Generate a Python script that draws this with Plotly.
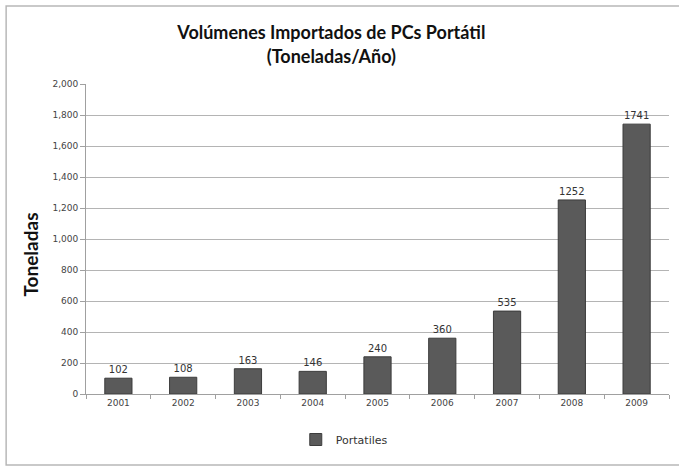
import plotly.graph_objects as go

# data
years = ["2001", "2002", "2003", "2004", "2005", "2006", "2007", "2008", "2009"]
portatiles = [102, 108, 163, 146, 240, 360, 535, 1252, 1741]
y_ticks = [0, 200, 400, 600, 800, 1000, 1200, 1400, 1600, 1800, 2000]
y_tick_text = ["0", "200", "400", "600", "800", "1,000", "1,200", "1,400", "1,600", "1,800", "2,000"]

tick_font = dict(family="DejaVu Sans", size=9, color="#444444")

fig = go.Figure()
fig.add_trace(go.Bar(
    x=years,
    y=portatiles,
    name="Portatiles",
    text=[str(v) for v in portatiles],
    textposition="outside",
    textfont=dict(family="DejaVu Sans", size=10, color="#333333"),
    cliponaxis=False,
    marker=dict(color="#5a5a5a", line=dict(color="#3c3c3c", width=1)),
))

fig.update_layout(
    width=679,
    height=466,
    margin=dict(l=86, r=10, t=84, b=72, autoexpand=False),
    paper_bgcolor="white",
    plot_bgcolor="white",
    bargap=0.58,
    title=dict(
        text="<b>Volúmenes Importados de PCs Portátil<br>(Toneladas/Año)</b>",
        x=0.488,
        xanchor="center",
        y=0.916,
        yanchor="top",
        font=dict(family="Lato", size=18, color="#111111"),
    ),
    showlegend=True,
    legend=dict(
        orientation="h",
        x=0.443,
        xanchor="center",
        y=-0.1,
        yanchor="top",
        itemwidth=30,
        font=dict(family="DejaVu Sans", size=11, color="#333333"),
    ),
    xaxis=dict(
        type="category",
        automargin=False,
        showline=True,
        linecolor="#a0a0a0",
        ticks="outside",
        tickson="boundaries",
        ticklen=4,
        tickcolor="#a0a0a0",
        tickfont=tick_font,
        showgrid=False,
    ),
    yaxis=dict(
        range=[0, 2000],
        automargin=False,
        tickvals=y_ticks,
        ticktext=y_tick_text,
        showline=True,
        linecolor="#a0a0a0",
        ticks="outside",
        ticklen=5,
        tickcolor="#a0a0a0",
        tickfont=tick_font,
        showgrid=True,
        gridcolor="#b4b4b4",
        gridwidth=1,
        zeroline=False,
    ),
)

# y axis title sits a little below the middle of the plot in the reference
fig.add_annotation(
    text="<b>Toneladas</b>",
    xref="paper", yref="paper",
    x=-0.096, y=0.45,
    xanchor="center", yanchor="middle",
    textangle=-90,
    showarrow=False,
    font=dict(family="Lato", size=19, color="#111111"),
)

# outer chart frame (right edge runs past the picture)
fig.add_shape(
    type="rect",
    xref="paper", yref="paper",
    x0=-0.137, x1=1.05, y0=-0.229, y1=1.252,
    line=dict(color="#b8b8b8", width=1.5),
    fillcolor="rgba(0,0,0,0)",
    layer="below",
)

# drop the default page margin so the figure sits at the window corner
fig.write_html(
    "out.html",
    config={"displayModeBar": False},
    post_script="document.body.style.margin = '0';",
)
